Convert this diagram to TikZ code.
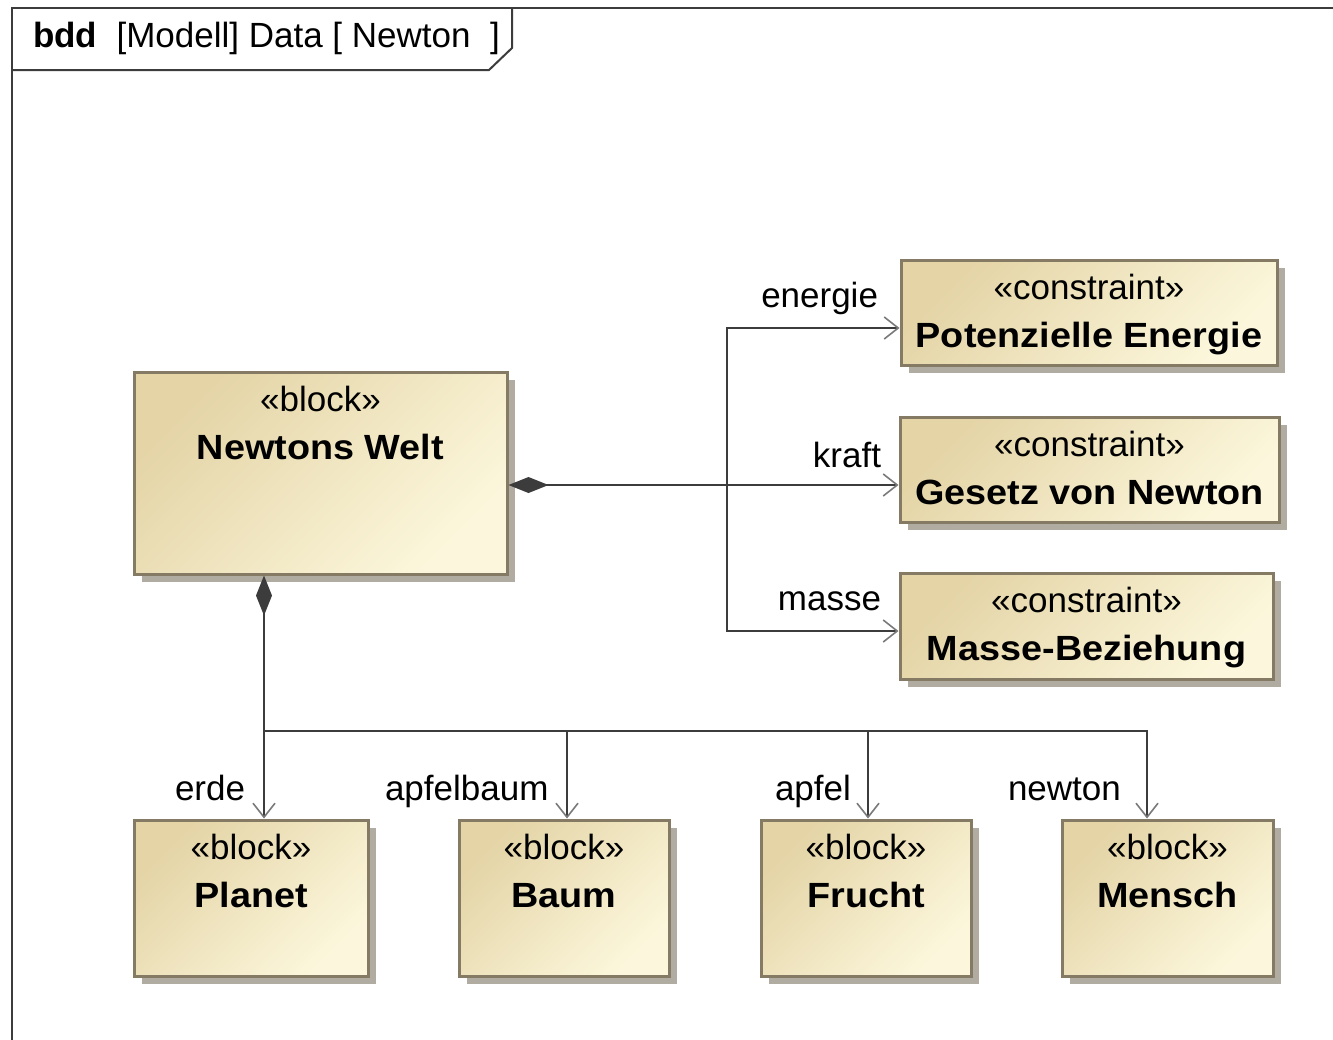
\documentclass[tikz,border=0pt]{standalone}
\usepackage{fontspec}
\setmainfont{Liberation Sans}
\newfontfamily\namefont{Liberation Sans}[FakeStretch=1.08]
\usetikzlibrary{arrows.meta,shadows}

\definecolor{blockdark}{HTML}{E4D4A6}
\definecolor{blocklight}{HTML}{FCF7DC}
\definecolor{blockborder}{HTML}{857B65}
\definecolor{shadowgray}{HTML}{B1ACA2}
\definecolor{linegray}{HTML}{3C3C3C}
\definecolor{tipgray}{HTML}{7A7A7A}

\tikzset{
  txt/.style={font=\fontsize{35}{42}\selectfont, inner sep=0pt, outer sep=0pt},
  blockbox/.style={draw=blockborder, line width=3pt, inner sep=0pt,
    shading=axis, left color=blockdark, right color=blocklight, shading angle=45,
    drop shadow={shadow xshift=8pt, shadow yshift=-8pt, fill=shadowgray, opacity=1}},
  stereo/.style={txt, anchor=base, yshift=-41pt},
  bname/.style={txt, font=\fontsize{35}{42}\namefont\bfseries, anchor=base, yshift=-89pt},
  framestyle/.style={draw=linegray, line width=2pt},
  conn/.style={draw=linegray, line width=2pt},
  openhead/.style={arrows={-{Straight Barb[length=14pt,width=22pt,line width=1.6pt,color=tipgray]}}},
  comp/.style={arrows={{Diamond[length=40pt,width=16pt,color=linegray,fill=linegray]}-{Straight Barb[length=14pt,width=22pt,line width=1.6pt,color=tipgray]}}},
}

\begin{document}
\begin{tikzpicture}[x=1pt, y=-1pt]
  \useasboundingbox (0,0) rectangle (1333,1039);
  \clip (0,0) rectangle (1333,1039);
  \fill[white] (0,0) rectangle (1333,1039);

  % diagram frame with its name tab
  \draw[framestyle] (12,8) rectangle (1400,1100);
  \draw[framestyle] (12,70) -- (489,70) -- (512,48) -- (512,8);
  \node[txt, anchor=base west] (hdr) at (33,47)
    {\textbf{bdd}\ \ [Modell] Data [ Newton\ \ ]};

  % blocks
  \node[blockbox, minimum width=373pt, minimum height=202pt,
    label={[stereo]north:«block»}, label={[bname]north:Newtons Welt}] (nw) at (320.5,473) {};

  \node[blockbox, minimum width=376pt, minimum height=105pt,
    label={[stereo]north:«constraint»}, label={[bname]north:Potenzielle Energie}] (pot) at (1089,312.5) {};
  \node[blockbox, minimum width=379pt, minimum height=105pt,
    label={[stereo]north:«constraint»}, label={[bname]north:Gesetz von Newton}] (gesetz) at (1089.5,469.5) {};
  \node[blockbox, minimum width=373pt, minimum height=106pt,
    label={[stereo]north:«constraint»}, label={[bname]north:Masse-Beziehung}] (masse) at (1086.5,626) {};

  \node[blockbox, minimum width=234pt, minimum height=156pt,
    label={[stereo]north:«block»}, label={[bname]north:Planet}] (planet) at (251,898) {};
  \node[blockbox, minimum width=210pt, minimum height=156pt,
    label={[stereo]north:«block»}, label={[bname]north:Baum}] (baum) at (564,898) {};
  \node[blockbox, minimum width=210pt, minimum height=156pt,
    label={[stereo]north:«block»}, label={[bname]north:Frucht}] (frucht) at (866,898) {};
  \node[blockbox, minimum width=211pt, minimum height=156pt,
    label={[stereo]north:«block»}, label={[bname]north:Mensch}] (mensch) at (1167.5,898) {};

  % junction points of the connector trees
  \coordinate (jR) at (727,485);
  \coordinate (eR) at (727,328);
  \coordinate (mR) at (727,631);
  \coordinate (jB) at (264,731);
  \coordinate (b1) at (567,731);
  \coordinate (b2) at (868,731);
  \coordinate (b3) at (1147,731);

  % constraint properties
  \draw[conn, comp] (nw.east |- jR) -- (gesetz.west |- jR);
  \draw[conn, openhead] (jR) -- (eR) -- (pot.west |- eR);
  \draw[conn, openhead] (jR) -- (mR) -- (masse.west |- mR);

  % part properties
  \draw[conn, comp] (nw.south -| jB) -- (planet.north -| jB);
  \draw[conn, openhead] (jB) -- (b3) -- (mensch.north -| b3);
  \draw[conn, openhead] (b1) -- (baum.north -| b1);
  \draw[conn, openhead] (b2) -- (frucht.north -| b2);

  % role names
  \node[txt, anchor=base east] (r-energie) at (878,307) {energie};
  \node[txt, anchor=base east] (r-kraft) at (881,467) {kraft};
  \node[txt, anchor=base east] (r-masse) at (881,610) {masse};
  \node[txt, anchor=base west] (r-erde) at (175,800) {erde};
  \node[txt, anchor=base west] (r-apfelbaum) at (385,800) {apfelbaum};
  \node[txt, anchor=base west] (r-apfel) at (775,800) {apfel};
  \node[txt, anchor=base west] (r-newton) at (1008,800) {newton};
\end{tikzpicture}
\end{document}
